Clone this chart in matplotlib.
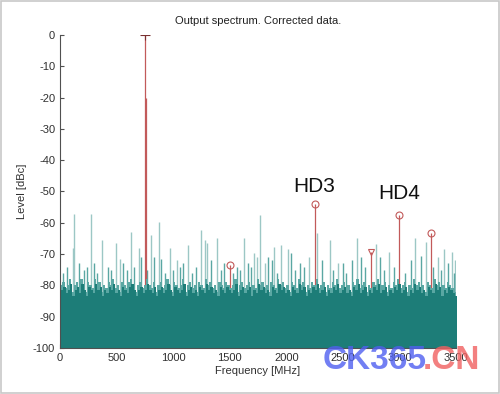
import matplotlib
matplotlib.use("Agg")
import matplotlib.pyplot as plt
import numpy as np

plt.rcParams['font.family'] = ['Liberation Sans', 'DejaVu Sans']
plt.rcParams['axes.unicode_minus'] = False

# noise floor, top level of the dense band, one value per 20 MHz from 0
band_step = 20
band_levels = [
    -80, -79, -81, -80, -78, -82, -80, -79, -81, -78, -80, -82, -79, -80, -81, -78, -80, -79, -82, -80, -81, -79, -80, -78, -81,
    -80, -82, -79, -80, -81, -79, -78, -80, -82, -80, -79, -81, -80, -78, -80, -81, -79, -82, -80, -79, -81, -80, -78, -80, -82,
    -79, -80, -81, -80, -78, -82, -80, -79, -81, -80, -82, -79, -80, -81, -78, -80, -79, -81, -80, -82, -79, -80, -81, -79, -80,
    -81, -80, -78, -82, -80, -79, -81, -80, -79, -82, -80, -81, -78, -80, -79, -81, -80, -82, -79, -80, -81, -78, -80, -79, -81,
    -80, -82, -79, -80, -81, -78, -80, -79, -82, -80, -81, -79, -80, -78, -81, -80, -79, -82, -80, -81, -79, -80, -78, -81, -80,
    -79, -81, -80, -82, -79, -80, -78, -81, -80, -79, -82, -80, -81, -79, -80, -78, -81, -80, -79, -82, -80, -81, -79, -80, -78,
    -81, -80, -79, -82, -80, -81, -78, -80, -79, -81, -80, -82, -79, -80, -81, -78, -80, -79, -82, -80, -81, -79, -80, -81, -82,
]

# medium spurs poking out of the floor
mid_freq = [30, 60, 170, 215, 240, 300, 330, 420, 450, 560, 590, 650, 720, 770, 830, 895, 930, 1000, 1060,
            1090, 1170, 1200, 1336, 1420, 1450, 1530, 1560, 1590, 1660, 1690, 1840, 1870, 1915, 2044, 2080,
            2120, 2160, 2320, 2410, 2500, 2530, 2580, 2661, 2700, 2830, 2860, 2950, 3050, 3100, 3190, 3300,
            3370, 3430, 3480]
mid_level = [-76, -74, -73, -75, -74, -73, -76, -74, -75, -73, -75, -74, -71, -75, -71, -71.5, -76, -75, -74,
             -73, -76, -74, -72, -75, -73, -76, -74, -75, -73, -74, -71, -72, -76, -69.8, -75,
             -73, -74, -72, -75, -73, -76, -72, -71, -74, -71, -75, -74, -76, -72, -70.5, -74,
             -75, -73, -76]

# tall spurs
spur_freq = [115, 125, 272, 369, 492, 531, 628, 698, 804, 877, 972, 1036, 1133, 1250, 1280, 1295, 1386,
             1627, 1715, 1742, 1771, 1809, 1889, 1951, 2015, 2197, 2273, 2383, 2456, 2626, 2794, 2912,
             3138, 3235, 3338, 3397, 3464, 3492]
spur_level = [-68, -57.1, -57.3, -65.6, -66.6, -71.7, -63, -68, -64, -59.8, -68, -72, -67, -62.2, -65.6, -66.5, -64.8,
              -64.8, -69.8, -71, -57.6, -73, -67.7, -67.2, -68.5, -71, -63.3, -65.4, -73, -64.8, -66.7, -69.3,
              -64.8, -66.1, -71, -68.3, -69.3, -72]

# fundamental and harmonics (red)
fund_freq = 750
fund_level = 0
leak_freq = 758
leak_level = -20
harm_freq = [1500, 2250, 3000, 3280]
harm_level = [-73.6, -54.1, -57.4, -63.3]
tri_freq = 2750
tri_level = -69.3

teal = '#1d7d78'
teal_light = '#5aa7a3'
spur_col = '#9cc7c5'
red = '#c25a5a'

fig = plt.figure(figsize=(5, 3.94), dpi=100)
ax = fig.add_axes([0.12, 0.117, 0.792, 0.794])

# spurs underneath, the floor is painted over their lower part
ax.vlines(spur_freq, -100, spur_level, color=spur_col, linewidth=1.0, zorder=1)
ax.vlines(mid_freq, -100, mid_level, color=teal_light, linewidth=1.0, zorder=1)

# red stems also sit under the floor, only their tops show
ax.vlines([fund_freq], -100, [fund_level], color=red, linewidth=0.9, zorder=1.5)
ax.vlines([leak_freq], -100, [leak_level], color=red, linewidth=0.9, zorder=1.5)
ax.vlines(harm_freq, -100, harm_level, color=red, linewidth=0.9, zorder=1.5)
ax.vlines([tri_freq], -100, [tri_level], color=red, linewidth=0.9, zorder=1.5)

band_x = np.arange(len(band_levels) + 1) * band_step
band_top = np.append(band_levels, band_levels[-1])
# lighter fringe, then the dark body shifted half a bin so the edge looks ragged
ax.fill_between(band_x, -100, band_top, step='post', color=teal_light, linewidth=0, zorder=2)
ax.fill_between(band_x + band_step / 2, -100, band_top - 1.5, step='post', color=teal, linewidth=0, zorder=2)
ax.fill_between(band_x[:2], -100, band_top[:2] - 1.5, step='post', color=teal, linewidth=0, zorder=2)

ax.plot([fund_freq], [fund_level], marker='+', color='#7a3030', markersize=7, markeredgewidth=0.8, zorder=4)
ax.plot(harm_freq, harm_level, 'o', markerfacecolor='none', markeredgecolor=red, markersize=5,
        markeredgewidth=0.8, zorder=4)
ax.plot([tri_freq], [tri_level], 'v', markerfacecolor='none', markeredgecolor=red, markersize=5,
        markeredgewidth=0.8, zorder=4)

ax.set_xlim(0, 3500)
ax.set_ylim(-100, 0)
ax.set_xticks(np.arange(0, 3501, 500))
ax.set_yticks(np.arange(-100, 1, 10))
ax.spines['top'].set_visible(False)
ax.spines['right'].set_visible(False)
for s in ['left', 'bottom']:
    ax.spines[s].set_color('#505050')
    ax.spines[s].set_linewidth(0.8)
ax.tick_params(direction='in', length=3, width=0.8, color='#505050', labelsize=8, labelcolor='#303030')

ax.set_title('Output spectrum. Corrected data.', fontsize=8, color='#202020', pad=8)
ax.set_xlabel('Frequency [MHz]', fontsize=8, color='#303030', labelpad=2)
ax.set_ylabel('Level [dBc]', fontsize=8, color='#303030', labelpad=4)

ax.text(2250, -48.5, 'HD3', fontsize=15, ha='center', va='center', color='#101010')
ax.text(3000, -50.5, 'HD4', fontsize=15, ha='center', va='center', color='#101010')

# watermark over the lower right corner
fig.text(0.645, 0.085, 'CK365', fontsize=24, fontweight='bold', color='#4f5ff0', alpha=0.8, va='center')
fig.text(0.845, 0.085, '.CN', fontsize=24, fontweight='bold', color='#f06060', alpha=0.8, va='center')

# thin frame around the picture
fig.patches.append(plt.Rectangle((0.002, 0.003), 0.996, 0.994, transform=fig.transFigure,
                                 fill=False, edgecolor='#c8c8c8', linewidth=1.2))

fig.savefig('out.png', dpi=100)
